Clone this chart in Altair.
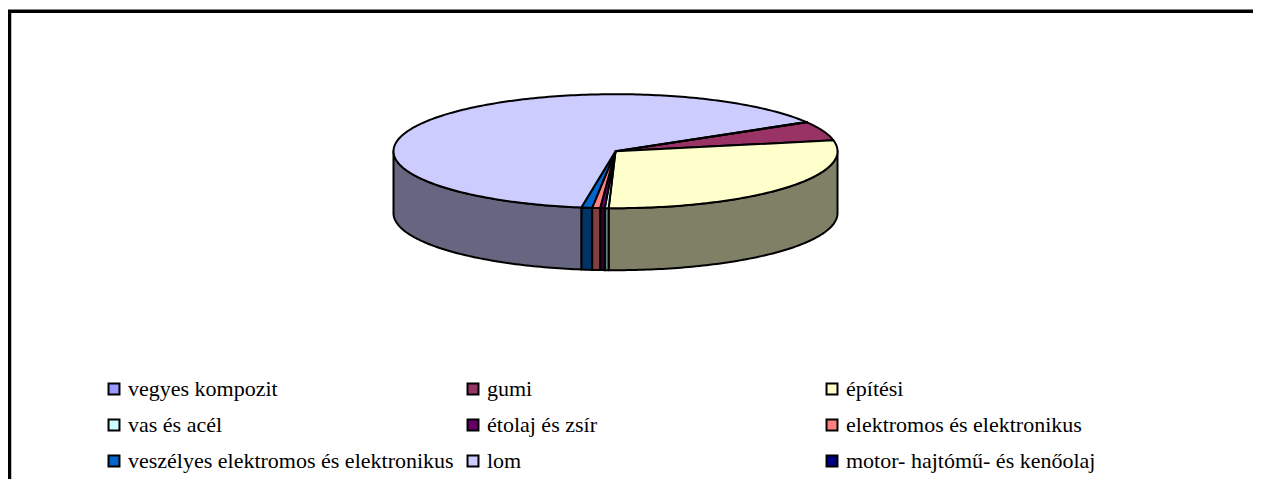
import math
import altair as alt

names = ["vegyes kompozit", "gumi", "építési", "vas és acél", "étolaj és zsír",
         "elektromos és elektronikus", "veszélyes elektromos és elektronikus", "lom",
         "motor- hajtómű- és kenőolaj"]
shares = [0.02, 5.42, 28.55, 0.28, 0.33, 0.58, 0.78, 64.0, 0.04]
colors = ["#9999FF", "#993366", "#FFFFCC", "#CCFFFF", "#660066", "#FF8080", "#0066CC", "#CCCCFF", "#000080"]
side_colors = ["#666680", "#4D1A33", "#808066", "#668080", "#330033", "#804040", "#003366", "#666680", "#000040"]

W, H = 1245, 471
CX, CY, RX, RY, DEPTH = 607.5, 143.2, 222.0, 57.0, 62.0
START = 59.4  # clockwise from 12 o'clock


def pt(a_deg, dy=0.0):
    a = math.radians(a_deg)
    return [CX + RX * math.sin(a), CY - RY * math.cos(a) + dy]


def arc(a0, a1):
    n = max(2, int(abs(a1 - a0)) + 2)
    return [a0 + (a1 - a0) * i / (n - 1) for i in range(n)]


total = sum(shares)
tops, sides = [], []
a = START
for name, s, c in zip(names, shares, side_colors):
    b = a + 360 * s / total
    ring = [[CX, CY]] + [pt(t) for t in arc(a, b)] + [[CX, CY]]
    tops.append({"type": "Feature", "properties": {"name": name},
                 "geometry": {"type": "Polygon", "coordinates": [ring]}})
    # only the part of the rim facing the viewer (90..270 deg clockwise from north)
    for shift in (0, 360, -360):
        lo, hi = max(a + shift, 90), min(b + shift, 270)
        if hi > lo:
            ts = arc(lo, hi)
            wall = [pt(t) for t in ts] + [pt(t, DEPTH) for t in reversed(ts)]
            wall.append(wall[0])
            sides.append({"type": "Feature", "properties": {"color": c},
                          "geometry": {"type": "Polygon", "coordinates": [wall]}})
    a = b

frame = [{"type": "Feature", "properties": {},
          "geometry": {"type": "LineString", "coordinates": [[1.5, H], [1.5, 3.3], [W, 3.3]]}}]

proj = dict(type="identity", scale=1, translate=[0, 0])

frame_layer = alt.Chart(alt.Data(values=frame)).mark_geoshape(
    filled=False, stroke="black", strokeWidth=3.5, strokeJoin="miter").project(**proj)

side_layer = alt.Chart(alt.Data(values=sides)).mark_geoshape(
    stroke="black", strokeWidth=2, strokeJoin="round").encode(
    fill=alt.Fill("properties.color:N", scale=None, legend=None)).project(**proj)

top_layer = alt.Chart(alt.Data(values=tops)).mark_geoshape(
    stroke="black", strokeWidth=2, strokeJoin="round").encode(
    fill=alt.Fill("properties.name:N", sort=names,
                  scale=alt.Scale(domain=names, range=colors),
                  legend=alt.Legend(
                      title=None, orient="none", legendX=95, legendY=370,
                      direction="horizontal",
                      columns=3, gridAlign="all", columnPadding=8, rowPadding=14,
                      symbolType="square", symbolSize=120, symbolStrokeColor="black",
                      symbolStrokeWidth=2, symbolOpacity=1,
                      labelFont="Liberation Serif", labelFontSize=22, labelColor="black",
                      labelLimit=500, labelOffset=3))).project(**proj)

chart = alt.layer(frame_layer, side_layer, top_layer).resolve_scale(fill="independent").properties(
    width=W, height=H, padding=0,
    autosize=alt.AutoSizeParams(type="none"),
    background="white").configure_view(stroke=None)

chart.save("out.html", embed_options={"renderer": "svg", "actions": False})
